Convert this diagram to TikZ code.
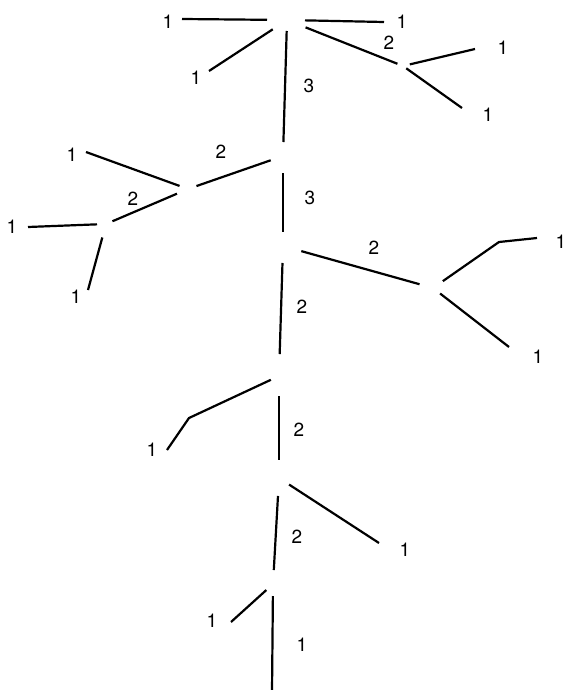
\documentclass[tikz,border=0pt]{standalone}
\usepackage{fontspec}
\setmainfont{TeX Gyre Heros}
\usepackage{tikz}
\usetikzlibrary{positioning}
\tikzset{
  seg/.style={line width=2.2pt},
  ord/.style={font=\fontsize{19}{19}\selectfont,inner sep=0pt},
}
\begin{document}
\begin{tikzpicture}[x=1pt,y=-1pt]
    \useasboundingbox[fill=white] (0,0) rectangle (567,690);
    % junctions
    \coordinate (j1) at (287,20);
    \coordinate (j2) at (403,66);
    \coordinate (j3) at (283,156);
    \coordinate (j4) at (188,189);
    \coordinate (j5) at (106,224);
    \coordinate (j6) at (283,246);
    \coordinate (j7) at (433,288);
    \coordinate (j8) at (279,376);
    \coordinate (j9) at (279,478);
    \coordinate (j10) at (273,584);
    % sources
    \coordinate (a1) at (182,19);
    \coordinate (a2) at (384,22);
    \coordinate (a3) at (209,71);
    \coordinate (b1) at (475,49);
    \coordinate (b2) at (462,108);
    \coordinate (c1) at (86,152);
    \coordinate (d1) at (28,227);
    \coordinate (d2) at (88,290);
    \coordinate (e1k) at (499,242);
    \coordinate (e1) at (537,238);
    \coordinate (e2) at (509,347);
    \coordinate (f1k) at (189,418);
    \coordinate (f1) at (167,450);
    \coordinate (g1) at (379,543);
    \coordinate (h1) at (231,622);
    \coordinate (k1) at (272,692);
    % streams
    \draw[seg,shorten <=20pt] (j1) -- (a1);
    \draw[seg,shorten <=18pt] (j1) -- (a2);
    \draw[seg,shorten <=17pt] (j1) -- (a3);
    \draw[seg,shorten <=20pt,shorten >=6pt] (j1) -- (j2);
    \draw[seg,shorten <=11pt,shorten >=14pt] (j1) -- (j3);
    \draw[seg,shorten <=7pt] (j2) -- (b1);
    \draw[seg,shorten <=4pt] (j2) -- (b2);
    \draw[seg,shorten <=13pt,shorten >=9pt] (j3) -- (j4);
    \draw[seg,shorten <=9pt] (j4) -- (c1);
    \draw[seg,shorten <=12pt,shorten >=7pt] (j4) -- (j5);
    \draw[seg,shorten <=9pt] (j5) -- (d1);
    \draw[seg,shorten <=14pt] (j5) -- (d2);
    \draw[seg,shorten <=17pt,shorten >=14pt] (j3) -- (j6);
    \draw[seg,shorten <=19pt,shorten >=14pt] (j6) -- (j7);
    \draw[seg,shorten <=12pt] (j7) -- (e1k) -- (e1);
    \draw[seg,shorten <=9pt] (j7) -- (e2);
    \draw[seg,shorten <=17pt,shorten >=22pt] (j6) -- (j8);
    \draw[seg,shorten <=9pt] (j8) -- (f1k) -- (f1);
    \draw[seg,shorten <=20pt,shorten >=18pt] (j8) -- (j9);
    \draw[seg,shorten <=12pt] (j9) -- (g1);
    \draw[seg,shorten <=18pt,shorten >=14pt] (j9) -- (j10);
    \draw[seg,shorten <=9pt] (j10) -- (h1);
    \draw[seg,shorten <=12pt] (j10) -- (k1);
    % orders
    \node[ord] (o1) at (168,22) {1};
    \node[ord] (o2) at (402,22) {1};
    \node[ord] (o3) at (389,43) {2};
    \node[ord] (o4) at (196,78) {1};
    \node[ord] (o5) at (309,86) {3};
    \node[ord] (o6) at (503,48) {1};
    \node[ord] (o7) at (488,115) {1};
    \node[ord] (o8) at (221,152) {2};
    \node[ord] (o9) at (72,155) {1};
    \node[ord] (o10) at (133,199) {2};
    \node[ord] (o11) at (310,198) {3};
    \node[ord] (o12) at (12,227) {1};
    \node[ord] (o13) at (76,297) {1};
    \node[ord] (o14) at (374,248) {2};
    \node[ord] (o15) at (561,242) {1};
    \node[ord] (o16) at (538,357) {1};
    \node[ord] (o17) at (302,307) {2};
    \node[ord] (o18) at (152,450) {1};
    \node[ord] (o19) at (299,430) {2};
    \node[ord] (o20) at (405,550) {1};
    \node[ord] (o21) at (297,537) {2};
    \node[ord] (o22) at (212,621) {1};
    \node[ord] (o23) at (302,645) {1};
\end{tikzpicture}
\end{document}
